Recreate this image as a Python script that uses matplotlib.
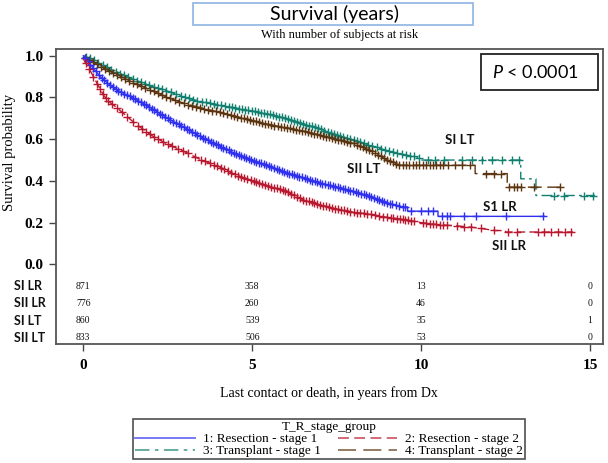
import numpy as np
import matplotlib
matplotlib.use("Agg")
import matplotlib.pyplot as plt
from matplotlib.lines import Line2D
from matplotlib.patches import Rectangle

plt.rcParams["mathtext.fontset"] = "custom"
plt.rcParams["mathtext.it"] = "Lato:italic"
plt.rcParams["mathtext.rm"] = "Lato"

SERIF = "Liberation Serif"
SANS = "Lato"

grupos = ["SI LR", "SII LR", "SI LT", "SII LT"]
legendas = [
    "1: Resection - stage 1",
    "2: Resection - stage 2",
    "3: Transplant - stage 1",
    "4: Transplant - stage 2",
]
rotulos_curva = ["S1 LR", "SII LR", "SI LT", "SII LT"]

# Curvas de Kaplan-Meier (tempo em anos, sobrevida)
t_si_lr = [0, 0.25, 0.5, 0.75, 1.0, 1.5, 2.0, 2.5, 3.0, 3.5, 4.0, 4.5, 5.0, 5.5,
           6.0, 6.5, 7.0, 7.5, 8.0, 8.5, 9.0, 9.4, 9.6, 9.6, 10.5, 10.5, 13.65]
s_si_lr = [1.0, 0.95, 0.90, 0.865, 0.835, 0.795, 0.75, 0.70, 0.655, 0.61, 0.57, 0.53,
           0.50, 0.47, 0.44, 0.415, 0.39, 0.37, 0.35, 0.325, 0.295, 0.275, 0.275,
           0.255, 0.255, 0.23, 0.23]

t_sii_lr = [0, 0.2, 0.4, 0.6, 0.8, 1.0, 1.5, 2.0, 2.5, 3.0, 3.5, 4.0, 4.5, 5.0, 5.5,
            6.0, 6.5, 7.0, 7.5, 8.0, 8.5, 9.0, 9.5, 10.0, 10.5, 11.0, 11.5, 12.2,
            12.5, 12.5, 14.5]
s_sii_lr = [0.985, 0.93, 0.87, 0.81, 0.775, 0.75, 0.68, 0.62, 0.575, 0.54, 0.50,
            0.47, 0.43, 0.40, 0.375, 0.35, 0.31, 0.285, 0.265, 0.25, 0.24, 0.225,
            0.215, 0.20, 0.19, 0.185, 0.178, 0.162, 0.162, 0.155, 0.155]

t_si_lt = [0, 0.25, 0.5, 1.0, 1.5, 2.0, 2.5, 3.0, 3.5, 4.0, 4.5, 5.0, 5.5, 6.0, 6.5,
           7.0, 7.5, 8.0, 8.5, 9.0, 9.5, 9.88, 10.0, 12.95, 12.95, 13.4, 13.4, 15.15]
s_si_lt = [1.0, 0.985, 0.96, 0.92, 0.885, 0.855, 0.83, 0.80, 0.78, 0.765, 0.75, 0.735,
           0.72, 0.70, 0.675, 0.65, 0.62, 0.595, 0.57, 0.545, 0.525, 0.515, 0.50,
           0.50, 0.41, 0.41, 0.33, 0.33]

t_sii_lt = [0, 0.25, 0.5, 1.0, 1.5, 2.0, 2.5, 3.0, 3.5, 4.0, 4.5, 5.0, 5.5, 6.0, 6.5,
            7.0, 7.5, 8.0, 8.5, 9.0, 9.38, 11.6, 11.6, 12.55, 12.55, 14.13]
s_sii_lt = [0.99, 0.975, 0.95, 0.91, 0.87, 0.835, 0.80, 0.77, 0.75, 0.73, 0.71, 0.69,
            0.67, 0.655, 0.64, 0.62, 0.60, 0.58, 0.545, 0.50, 0.475, 0.475, 0.435,
            0.435, 0.37, 0.37]

# Tempos censurados (marcas +)
c_si_lr = [0.05, 0.13, 0.21, 0.3, 0.37, 0.46, 0.55, 0.62, 0.71, 0.8, 0.87, 0.96,
           1.04, 1.13, 1.2, 1.29, 1.37, 1.46, 1.53, 1.62, 1.7, 1.79, 1.86, 1.95, 2.03,
           2.1, 2.19, 2.27, 2.34, 2.43, 2.5, 2.58, 2.67, 2.74, 2.82, 2.9, 2.97, 3.06,
           3.13, 3.21, 3.3, 3.37, 3.45, 3.53, 3.6, 3.68, 3.77, 3.84, 3.92, 4.0, 4.07,
           4.15, 4.23, 4.3, 4.38, 4.45, 4.53, 4.6, 4.68, 4.75, 4.83, 4.9, 4.97, 5.05,
           5.12, 5.2, 5.27, 5.35, 5.42, 5.5, 5.57, 5.65, 5.72, 5.8, 5.87, 5.95, 6.02,
           6.1, 6.17, 6.25, 6.32, 6.4, 6.47, 6.55, 6.62, 6.7, 6.78, 6.85, 6.93, 7.0,
           7.08, 7.15, 7.23, 7.3, 7.38, 7.46, 7.53, 7.61, 7.68, 7.76, 7.84, 7.91, 7.99,
           8.07, 8.14, 8.22, 8.3, 8.37, 8.45, 8.53, 8.6, 8.68, 8.76, 8.83, 8.91, 8.99,
           9.07, 9.15, 9.25, 9.35, 9.45, 9.52, 9.7, 10.0, 10.2, 10.35, 10.62, 10.77,
           10.87, 11.27, 11.62, 12.51, 13.6]
c_sii_lr = [0.08, 0.18, 0.3, 0.42, 0.5, 0.58, 0.66, 0.74, 0.85, 1.0, 1.15, 1.3, 1.48,
            1.62, 1.75, 1.86, 1.97, 2.1, 2.22, 2.36, 2.5, 2.64, 2.8, 2.95, 3.1, 3.3,
            3.47, 3.6, 3.75, 3.86, 3.97, 4.08, 4.18, 4.28, 4.38, 4.48, 4.58, 4.68,
            4.77, 4.86, 4.95, 5.04, 5.12, 5.21, 5.3, 5.38, 5.47, 5.55, 5.64, 5.72,
            5.81, 5.9, 5.98, 6.07, 6.15, 6.24, 6.33, 6.41, 6.5, 6.58, 6.67, 6.76,
            6.84, 6.93, 7.02, 7.1, 7.19, 7.28, 7.36, 7.45, 7.54, 7.62, 7.71, 7.8, 7.9,
            8.0, 8.1, 8.2, 8.3, 8.4, 8.52, 8.64, 8.75, 8.88, 9.0, 9.1, 9.18, 9.3, 9.38,
            9.45, 9.52, 9.6, 9.7, 9.78, 10.07, 10.16, 10.25, 10.34, 10.45, 10.55,
            10.65, 10.77, 11.07, 11.27, 11.47, 11.77, 12.16, 12.56, 12.85, 13.45,
            13.65, 13.85, 14.05, 14.25, 14.45]
c_si_lt = [0.08, 0.2, 0.32, 0.45, 0.58, 0.7, 0.83, 0.96, 1.08, 1.2, 1.33, 1.46, 1.58,
           1.7, 1.82, 1.95, 2.08, 2.2, 2.33, 2.46, 2.6, 2.74, 2.88, 3.0, 3.12, 3.25,
           3.38, 3.5, 3.62, 3.74, 3.86, 3.97, 4.08, 4.19, 4.3, 4.4, 4.5, 4.6, 4.7,
           4.8, 4.89, 4.98, 5.07, 5.16, 5.25, 5.34, 5.43, 5.52, 5.61, 5.7, 5.79,
           5.88, 5.97, 6.06, 6.15, 6.24, 6.33, 6.42, 6.51, 6.6, 6.69, 6.78, 6.87,
           6.96, 7.05, 7.14, 7.23, 7.32, 7.41, 7.5, 7.6, 7.7, 7.8, 7.9, 8.0, 8.1,
           8.2, 8.3, 8.42, 8.55, 8.68, 8.8, 8.93, 9.05, 9.18, 9.3, 9.42, 9.55, 9.66,
           9.78, 9.93, 10.2, 10.4, 10.67, 11.2, 11.5, 11.8, 12.1, 12.4, 12.7, 12.9,
           13.94, 14.24, 14.83, 15.08]
c_sii_lt = [0.05, 0.16, 0.28, 0.4, 0.52, 0.64, 0.76, 0.88, 1.0, 1.12, 1.24, 1.36,
            1.48, 1.6, 1.72, 1.84, 1.96, 2.08, 2.2, 2.32, 2.44, 2.56, 2.7, 2.84, 2.98,
            3.1, 3.22, 3.34, 3.46, 3.58, 3.7, 3.82, 3.93, 4.04, 4.15, 4.26, 4.36,
            4.46, 4.56, 4.66, 4.76, 4.85, 4.94, 5.03, 5.12, 5.21, 5.3, 5.39, 5.48,
            5.57, 5.66, 5.75, 5.84, 5.93, 6.02, 6.11, 6.2, 6.29, 6.38, 6.47, 6.56,
            6.65, 6.74, 6.83, 6.92, 7.01, 7.1, 7.19, 7.28, 7.37, 7.46, 7.55, 7.64,
            7.73, 7.82, 7.91, 8.0, 8.09, 8.18, 8.27, 8.36, 8.45, 8.54, 8.63, 8.72,
            8.81, 8.9, 8.99, 9.08, 9.17, 9.26, 9.34, 9.45, 9.55, 9.65, 9.75, 9.85,
            9.95, 10.05, 10.15, 10.25, 10.35, 10.45, 10.55, 10.65, 10.8, 11.0, 11.2,
            11.45, 11.91, 12.16, 12.36, 12.6, 12.75, 12.85, 12.95, 13.35, 14.1]

# Numero em risco
anos_risco = [0, 5, 10, 15]
risco_si_lr = [871, 358, 13, 0]
risco_sii_lr = [776, 260, 46, 0]
risco_si_lt = [860, 539, 35, 1]
risco_sii_lt = [833, 506, 53, 0]

tempos = [t_si_lr, t_sii_lr, t_si_lt, t_sii_lt]
sobrevidas = [s_si_lr, s_sii_lr, s_si_lt, s_sii_lt]
censuras = [c_si_lr, c_sii_lr, c_si_lt, c_sii_lt]
riscos = [risco_si_lr, risco_sii_lr, risco_si_lt, risco_sii_lt]

cores = ["#2f2ff0", "#b8192f", "#128070", "#5c3510"]
estilos = ["-", (0, (6, 3)), (0, (8, 3, 2, 3)), (0, (10, 4))]
pos_rotulos = [(12.33, 0.275), (12.6, 0.088), (11.15, 0.595), (8.29, 0.457)]
y_risco = [-0.104, -0.187, -0.270, -0.353]

W, H = 608, 463
fig = plt.figure(figsize=(W / 100, H / 100), dpi=100)
ax = fig.add_axes([56 / W, 1 - 344 / H, 547 / W, 294.7 / H])

# ordem de desenho: transplante atras, resseccao na frente
for k in [2, 3, 0, 1]:
    t, s, c = tempos[k], sobrevidas[k], censuras[k]
    ax.plot(t, s, color=cores[k], lw=1.0, linestyle=estilos[k])
    ax.plot(c, np.interp(c, t, s), linestyle="none", marker="+", ms=6,
            mew=1.0, color=cores[k])

for rot, (x, y) in zip(rotulos_curva, pos_rotulos):
    ax.text(x, y, rot, ha="center", va="center", fontsize=9.5,
            fontweight="bold", family=SANS, color="#111111")

for nome, yr, vals in zip(grupos, y_risco, riscos):
    ax.text(-0.0768, yr, nome, transform=ax.get_yaxis_transform(),
            ha="left", va="center", fontsize=9, fontweight="bold",
            family=SANS, color="#111111")
    for xa, v in zip(anos_risco, vals):
        ax.text(xa, yr, str(v), ha="center", va="center", fontsize=7,
                family=SERIF, color="#111111")

ax.set_xlim(-0.808, 15.385)
ax.set_ylim(-0.382, 1.031)
ax.set_xticks(anos_risco)
ax.set_yticks([0, 0.2, 0.4, 0.6, 0.8, 1.0])
ax.set_yticklabels(["0.0", "0.2", "0.4", "0.6", "0.8", "1.0"])
ax.tick_params(length=5, width=1, color="#444444", pad=4)
ax.tick_params(axis="x", pad=6)
for lab in ax.get_xticklabels() + ax.get_yticklabels():
    lab.set_family(SERIF)
    lab.set_fontweight("bold")
    lab.set_fontsize(11)
for sp in ax.spines.values():
    sp.set_color("#555555")
    sp.set_linewidth(1.3)

# Titulo
fig.patches.append(Rectangle((193 / W, 1 - 25 / H), 280 / W, 22.3 / H,
                             transform=fig.transFigure, fill=False,
                             edgecolor="#8fb4e3", lw=1.2))
fig.text(334 / W, 1 - 14 / H, "Survival (years)", ha="center", va="center",
         fontsize=14, family=SANS)
fig.text(340 / W, 1 - 35 / H, "With number of subjects at risk", ha="center",
         va="center", fontsize=9, family=SERIF)

# Caixa do valor P
fig.patches.append(Rectangle((481 / W, 1 - 90 / H), 117 / W, 36 / H,
                             transform=fig.transFigure, fill=False,
                             edgecolor="#222222", lw=1.3))
fig.text(535 / W, 1 - 73 / H, r"$P$ < 0.0001", ha="center", va="center",
         fontsize=13, family=SANS)

fig.text(10 / W, 1 - 152 / H, "Survival probability", rotation=90,
         ha="center", va="center", fontsize=10.5, family=SERIF)
fig.text(329 / W, 1 - 393 / H, "Last contact or death, in years from Dx",
         ha="center", va="center", fontsize=10, family=SERIF)

alcas = [Line2D([], [], color=c, lw=1.3, linestyle=ls, alpha=0.7)
         for c, ls in zip(cores, estilos)]
ordem = [0, 2, 1, 3]
leg = fig.legend([alcas[i] for i in ordem], [legendas[i] for i in ordem],
                 ncol=2, loc="upper center",
                 bbox_to_anchor=(329 / W, 1 - 419 / H),
                 title="T_R_stage_group",
                 prop={"family": SERIF, "size": 9.5},
                 title_fontproperties={"family": SERIF, "size": 9.5},
                 frameon=True, fancybox=False, edgecolor="#222222",
                 borderpad=0.15, labelspacing=0.0, handlelength=4.5,
                 handletextpad=0.6, columnspacing=1.3, borderaxespad=0)
leg.get_frame().set_linewidth(1.2)
leg._legend_box.sep = 0

fig.savefig("out.png", dpi=100)
